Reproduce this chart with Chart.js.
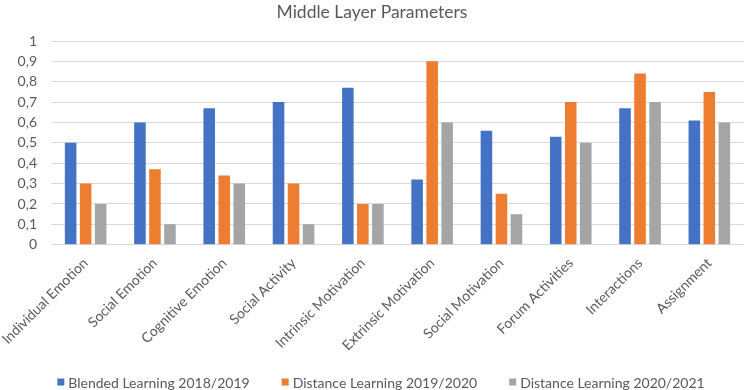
<!DOCTYPE html>
<html>
<head>
<meta charset="utf-8">
<script src="https://cdn.jsdelivr.net/npm/chart.js@4.4.1/dist/chart.umd.min.js"></script>
<style>
  html, body { margin: 0; padding: 0; background: #ffffff; }
  #wrap { width: 744px; height: 390px; position: relative; }
</style>
</head>
<body>
<div id="wrap"><canvas id="c" width="744" height="390"></canvas></div>
<script>
const categories = ["Individual Emotion", "Social Emotion", "Cognitive Emotion", "Social Activity", "Intrinsic Motivation", "Extrinsic Motivation", "Social Motivation", "Forum Activities", "Interactions", "Assignment"];
const blended1819 = [0.50, 0.60, 0.67, 0.70, 0.77, 0.32, 0.56, 0.53, 0.67, 0.61];
const distance1920 = [0.30, 0.37, 0.34, 0.30, 0.20, 0.90, 0.25, 0.70, 0.84, 0.75];
const distance2021 = [0.20, 0.10, 0.30, 0.10, 0.20, 0.60, 0.15, 0.50, 0.70, 0.60];
const seriesNames = ["Blended Learning 2018/2019", "Distance Learning 2019/2020", "Distance Learning 2020/2021"];
const yTicks = [0, 0.1, 0.2, 0.3, 0.4, 0.5, 0.6, 0.7, 0.8, 0.9, 1];
const chartTitle = "Middle Layer Parameters";

const FONT = "Lato, 'Open Sans', sans-serif";
const TEXT = "#595959";
const colors = ["#4472C4", "#ED7D31", "#A5A5A5"];

const customLegend = {
  id: 'customLegend',
  afterDraw(chart) {
    const ctx = chart.ctx;
    ctx.save();
    ctx.font = "14px " + FONT;
    ctx.textBaseline = 'middle';
    const box = 7, gapText = 4, gapItem = 32;
    const items = chart.data.datasets.map(d => ({ text: d.label, color: d.backgroundColor, w: ctx.measureText(d.label).width }));
    const total = items.reduce((s, it) => s + box + gapText + it.w, 0) + gapItem * (items.length - 1);
    let x = chart.width / 2 + 9 - total / 2;
    const y = chart.height - 8;
    items.forEach(it => {
      ctx.fillStyle = it.color;
      ctx.fillRect(x, y - box / 2, box, box);
      ctx.fillStyle = TEXT;
      ctx.fillText(it.text, x + box + gapText, y + 1);
      x += box + gapText + it.w + gapItem;
    });
    ctx.restore();
  }
};

new Chart(document.getElementById('c'), {
  type: 'bar',
  data: {
    labels: categories,
    datasets: [
      { label: seriesNames[0], data: blended1819, backgroundColor: colors[0] },
      { label: seriesNames[1], data: distance1920, backgroundColor: colors[1] },
      { label: seriesNames[2], data: distance2021, backgroundColor: colors[2] }
    ]
  },
  options: {
    responsive: false,
    animation: false,
    devicePixelRatio: 1,
    layout: { padding: { left: 0, right: 0, top: 0, bottom: 34 } },
    datasets: { bar: { categoryPercentage: 0.65, barPercentage: 0.77 } },
    plugins: {
      legend: { display: false },
      tooltip: { enabled: false },
      title: {
        display: true,
        text: chartTitle,
        color: TEXT,
        font: { family: FONT, size: 17.5, weight: 'normal' },
        padding: { top: 2, bottom: 18 }
      }
    },
    scales: {
      x: {
        grid: { display: false },
        border: { display: true, color: '#D9D9D9' },
        ticks: {
          color: TEXT,
          font: { family: FONT, size: 14 },
          minRotation: 45,
          maxRotation: 45,
          autoSkip: false,
          padding: 2
        }
      },
      y: {
        min: 0,
        max: 1,
        afterFit(scale) { scale.width = 51; },
        afterBuildTicks(scale) { scale.ticks = yTicks.map(v => ({ value: v })); },
        grid: { color: '#D9D9D9', lineWidth: 1, drawTicks: false },
        border: { display: false },
        ticks: {
          color: TEXT,
          font: { family: FONT, size: 14 },
          padding: 14,
          callback: v => String(v).replace('.', ',')
        }
      }
    }
  },
  plugins: [customLegend]
});
</script>
</body>
</html>
